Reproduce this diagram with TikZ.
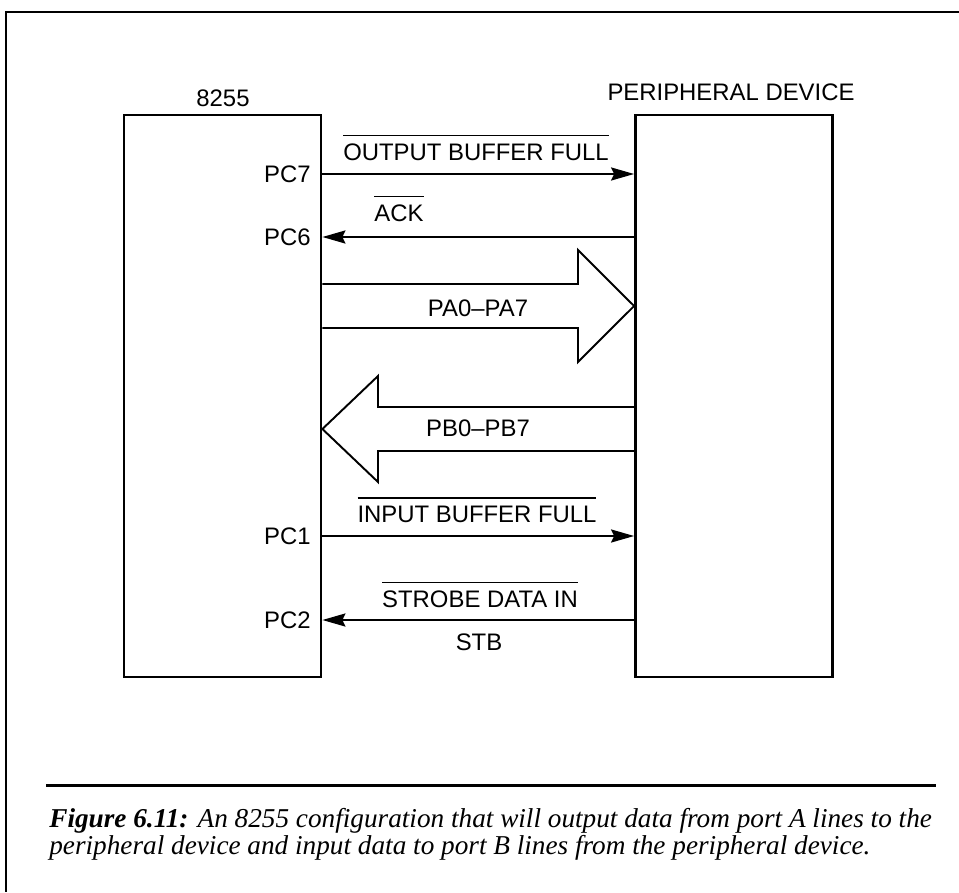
\documentclass[tikz,border=0pt]{standalone}
\usepackage{fontspec}
\setmainfont{Liberation Sans}
\newfontfamily\capfont{Liberation Serif}
\usepackage{tikz}
\usetikzlibrary{calc,positioning,arrows.meta}

% signal name with a bar over it
\newcommand{\barsig}[1]{\vbox{\hrule height 0.6pt \kern 4pt \hbox{#1}}}

\begin{document}
\begin{tikzpicture}[
    x=0.02cm, y=-0.02cm,
    font=\fontsize{13.6}{16}\selectfont,
    unit/.style={rectangle, draw=black, line width=1.6pt, minimum width=3.94cm, minimum height=11.24cm, inner sep=0pt},
    pin/.style={anchor=east, inner sep=0pt},
    sig/.style={anchor=base, inner sep=0pt},
    wire/.style={-{Stealth[length=4.6mm,width=2.6mm,inset=0.6mm]}, line width=1.3pt},
    bus/.style={line width=1.1pt, line join=miter},
    frame/.style={line width=1.7pt},
    caption/.style={anchor=base west, inner sep=0pt, font=\capfont\itshape\fontsize{15.5}{18}\selectfont}
]
    \useasboundingbox (0,0) rectangle (959,892);

    % --- FRAME ---
    \draw[frame] (959,12) -- (6,12) -- (6,892);

    % --- 8255 & PERIPHERAL DEVICE ---
    \node[unit] (chip) at (222.5,396) {};
    \node[unit] (dev) at (734,396) {};
    \node[sig] (chipname) at (223,107) {8255};
    \node[sig] (devname) at (731,100) {PERIPHERAL DEVICE};

    % --- PORT C PINS ---
    \node[pin] (pc7) at (311,174) {PC7};
    \node[pin] (pc6) at (311,237) {PC6};
    \node[pin] (pc1) at (311,536) {PC1};
    \node[pin] (pc2) at (311,620) {PC2};

    % --- SIGNAL NAMES ---
    \node[sig] (obf) at (476,160) {\barsig{OUTPUT BUFFER FULL}};
    \node[sig] (ack) at (399,221) {\barsig{ACK}};
    \node[sig] (pa) at (478,316) {PA0–PA7};
    \node[sig] (pb) at (478,436) {PB0–PB7};
    \node[sig] (ibf) at (477,522) {\barsig{INPUT BUFFER FULL}};
    \node[sig] (sdi) at (480,607) {\barsig{STROBE DATA IN}};
    \node[sig] (stb) at (479,650) {STB};

    % ================= HANDSHAKE LINES =================
    \draw[wire] (chip.east |- pc7) -- (dev.west |- pc7);
    \draw[wire] (dev.west |- pc6) -- (chip.east |- pc6);
    \draw[wire] (chip.east |- pc1) -- (dev.west |- pc1);
    \draw[wire] (dev.west |- pc2) -- (chip.east |- pc2);

    % port A out, port B in
    \draw[bus] (chip.east |- 0,284) -- (578,284) -- (578,250) -- (dev.west |- 0,306)
        -- (578,362) -- (578,328) -- (chip.east |- 0,328);
    \draw[bus] (dev.west |- 0,407) -- (378,407) -- (378,376) -- (chip.east |- 0,429)
        -- (378,482) -- (378,451) -- (dev.west |- 0,451);

    % --- CAPTION ---
    \draw[frame] (46,785) -- (936,785);
    \node[caption] (cap1) at (49,827) {\textbf{Figure 6.11:} An 8255 configuration that will output data from port A lines to the};
    \node[caption] (cap2) at (49,854) {peripheral device and input data to port B lines from the peripheral device.};

\end{tikzpicture}
\end{document}
